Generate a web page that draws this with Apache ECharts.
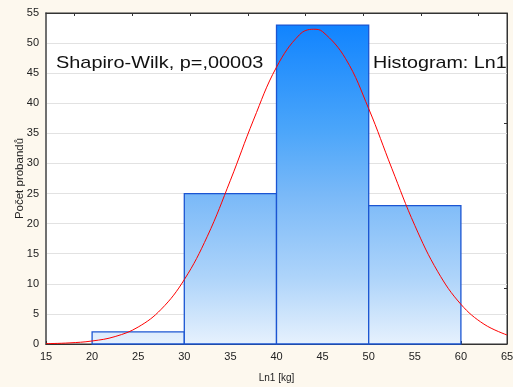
<!DOCTYPE html>
<html>
<head>
<meta charset="utf-8">
<script src="https://cdn.jsdelivr.net/npm/echarts@6/dist/echarts.min.js"></script>
<style>
  html, body { margin: 0; padding: 0; background: #fdf8ee; }
  #graph1 { width: 513px; height: 387px; }
</style>
</head>
<body>
<div id="graph1"></div>
<script>
	var myChart1 = echarts.init(document.getElementById('graph1'));

	// histogram bins: [from, to, count]
	var binFrom = [20, 30, 40, 50];
	var binTo = [30, 40, 50, 60];
	var counts = [2, 25, 53, 23];

	// fitted normal curve
	var curveX = [15, 17.5, 20, 22.5, 25, 27.5, 30, 32.5, 35, 37.5, 40, 42.5, 44, 45, 47.5, 50, 52.5, 55, 57.5, 60, 62.5, 65];
	var curveY = [0.06, 0.18, 0.5, 1.24, 2.82, 5.78, 10.7, 17.9, 27.2, 37.2, 46.0, 51.4, 52.3, 51.9, 47.4, 39.1, 29.2, 19.7, 12.0, 6.6, 3.3, 1.5];

	// ticks of the frame (top and right), not labelled
	var topTicks = [18.11, 24.37, 30.63, 36.89, 43.15, 49.41, 55.67, 61.93];
	var rightTicks = [9.3, 36.7];

	var barData = [];
	for (var i = 0; i < counts.length; i++) {
		barData.push([binFrom[i], binTo[i], counts[i]]);
	}
	var curveData = [];
	for (var j = 0; j < curveX.length; j++) {
		curveData.push([curveX[j], curveY[j]]);
	}

	var fill = {
		type: 'linear', x: 0, y: 13, x2: 0, y2: 344, global: true,
		colorStops: [
			{offset: 0, color: '#0a80ff'},
			{offset: 0.35, color: '#4aa5fa'},
			{offset: 0.55, color: '#7ab9f8'},
			{offset: 0.8, color: '#aed4fa'},
			{offset: 1, color: '#e6f1fd'}
		]
	};

	var lbl = {fontFamily: 'Liberation Sans', fontSize: 11, color: '#222'};

	var option = {
		backgroundColor: '#fdf8ee',
		animation: false,
		grid: {left: 46, right: 6, top: 13, bottom: 43, outerBoundsMode: 'none', show: true, backgroundColor: '#fff', borderWidth: 1, borderColor: '#333'},
		xAxis: [
			{
				type: 'value', min: 15, max: 65, interval: 5, position: 'bottom',
				axisLine: {show: true, onZero: false, lineStyle: {color: '#333', width: 1}},
				axisTick: {show: true, inside: true, length: 3, lineStyle: {color: '#333'}},
				axisLabel: Object.assign({margin: 7}, lbl),
				splitLine: {show: false},
				name: 'Ln1 [kg]', nameLocation: 'middle', nameGap: 29, nameMoveOverlap: false,
				nameTextStyle: {fontFamily: 'Liberation Sans', fontSize: 10, color: '#222'}
			},
			{
				type: 'value', min: 15, max: 65, position: 'top',
				axisLine: {show: true, onZero: false, lineStyle: {color: '#333', width: 1}},
				axisTick: {show: true, inside: true, length: 3, customValues: topTicks, lineStyle: {color: '#333'}},
				axisLabel: {show: false},
				splitLine: {show: false}
			}
		],
		yAxis: [
			{
				type: 'value', min: 0, max: 55, interval: 5,
				axisLine: {show: true, onZero: false, lineStyle: {color: '#707070', width: 2}},
				axisTick: {show: false},
				axisLabel: Object.assign({margin: 7}, lbl),
				splitLine: {show: true, lineStyle: {color: '#e2e2e2', width: 1}},
				name: 'Počet probandů', nameLocation: 'middle', nameGap: 20, nameMoveOverlap: false,
				nameTextStyle: {fontFamily: 'Liberation Sans', fontSize: 11.5, color: '#222'}
			},
			{
				type: 'value', min: 0, max: 55, position: 'right',
				axisLine: {show: true, onZero: false, lineStyle: {color: '#333', width: 1}},
				axisTick: {show: true, inside: true, length: 3, customValues: rightTicks, lineStyle: {color: '#333'}},
				axisLabel: {show: false},
				splitLine: {show: false}
			}
		],
		series: [
			{
				type: 'custom',
				xAxisIndex: 0, yAxisIndex: 0,
				data: barData,
				encode: {x: [0, 1], y: 2},
				renderItem: function (params, api) {
					var p0 = api.coord([api.value(0), api.value(2)]);
					var p1 = api.coord([api.value(1), 0]);
					return {
						type: 'rect',
						shape: {x: p0[0], y: p0[1], width: p1[0] - p0[0], height: p1[1] - p0[1]},
						style: {fill: fill, stroke: '#1b55d2', lineWidth: 1.3}
					};
				},
				z: 2
			},
			{
				type: 'line',
				data: curveData,
				smooth: 0.4,
				showSymbol: false,
				lineStyle: {color: '#ff0000', width: 1},
				z: 5
			}
		],
		graphic: [
			{type: 'text', x: 56, y: 55, scaleX: 1.17, z: 10, style: {text: 'Shapiro-Wilk, p=,00003', fontFamily: 'Liberation Sans', fontSize: 17, fill: '#111'}},
			{type: 'text', x: 373, y: 55, scaleX: 1.16, z: 10, style: {text: 'Histogram: Ln1', fontFamily: 'Liberation Sans', fontSize: 17, fill: '#111'}}
		]
	};
	myChart1.setOption(option);
</script>
</body>
</html>
